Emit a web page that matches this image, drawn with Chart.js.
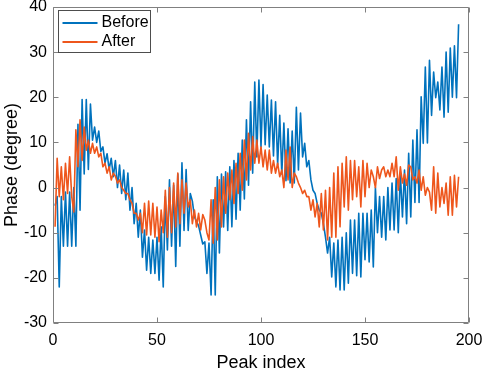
<!DOCTYPE html>
<html>
<head>
<meta charset="utf-8">
<script src="https://cdn.jsdelivr.net/npm/chart.js@4.4.1/dist/chart.umd.min.js"></script>
<style>
  html, body { margin: 0; padding: 0; background: #fff; }
  #wrap { width: 484px; height: 372px; }
</style>
</head>
<body>
<div id="wrap"><canvas id="phase"></canvas></div>
<script>
// Phase of each peak, before and after correction (degree)
var before = [
  -4, -2, -22, -2, -13, -1, -13, -1, -13, 0,
  -13, 14, -5, 19.5, 3, 19.5, 4, 18.5, 10.5, 13.4,
  10, 12.5, 8, 9, 5.4, 7.5, 4, 6.5, 2.4, 6,
  0, 5, -1.3, 3.9, -2.7, 3.2, -5, 0, -8, -3.5,
  -11, -5, -15.4, -9.4, -18.3, -11, -19, -11.6, -19, -11,
  -20.5, -8.7, -22, -2, -13.8, 1.7, -13, 0.5, -17.5, 3,
  -13, 5.5, -9.5, 4, -9.5, -1.3, -3, -6.5, -7.5, -8.5,
  -10.5, -12.5, -12, -19, -12.3, -23.8, -2.7, -23.8, 2.4, -14.5,
  3, -8.7, 3.5, -9.5, 4.6, -8.7, 6, -7, 7.6, -5,
  10.5, -2.5, 15, 0.5, 19, 3.2, 23.4, 6.8, 23.8, 9,
  22.8, 9.5, 20.5, 9, 19.4, 7, 19, 5, 16, 3,
  14.3, 1.5, 13, 1, 12.5, 1, 17.8, 3.9, 16.5, 6.8,
  9.8, 4.6, 6, 1.7, -0.6, -1.3, -3.5, -5, -5.7, -8,
  -11, -14.5, -11, -19.8, -12.3, -22, -11.6, -22.7, -11, -22.7,
  -10, -21.2, -7.2, -19, -7.2, -19.5, -5.7, -19.8, -5.7, -16,
  -5.7, -16.5, -5, -17.6, 0, -10, -2, -11, -2, -11.6,
  0, -9.4, 1, -9.4, 2, -10, 3.2, -6.5, 3.9, -8,
  7.6, -6.5, 10.5, -3.3, 12.8, -3.3, 20.1, 9.8, 26.7, 9.9,
  28.2, 16, 25.6, 19.9, 23.4, 17.2, 26.7, 15.6, 30, 16.7,
  30.9, 20, 31.4, 19.9, 36.2
];
var after = [
  -8.7, 6.5, -2, 4.6, -2.7, 5.4, -1.3, 6.8, -2, -5.4,
  12.8, 4.6, 15, 6, 13.4, 8.3, 10.5, 7.6, 9.8, 7.6,
  9, 6.8, 7.6, 4.6, 5.4, 3.2, 4.6, 1.7, 3.2, 2.5,
  1, 1.7, 0, -0.6, -1.3, -1.3, -2.7, -3.5, -5.7, -5.7,
  -7.2, -5.7, -10, -3.5, -10.5, -3, -10.5, -3.5, -11, -4.3,
  -12, -5, -10, -0.6, -11, 0, -10, 1, -8.7, 3.2,
  -8, 1.7, -5.7, 1, -4.3, -2.7, -8, -5, -8.7, -5.7,
  -9.4, -6, -7.2, -10, -11.6, -2.7, -12.3, 0, -11.6, 1.7,
  -8.7, 2.4, -5.7, 3.2, -2.7, 3.9, -3.5, 5.4, -1.3, 7.6,
  -0.6, 10.5, 1.7, 12, 3.9, 11.3, 5.4, 10.5, 5.4, 9,
  4.6, 8.3, 3.9, 8.3, 3.2, 6, 3.2, 5.4, 2.4, 3.9,
  0, 8.3, 1.7, 9, 0, 3.2, 2.4, 1, 0, -1.3,
  -0.6, -2, -2, -5, -2.7, -6.5, -3.5, -8.7, -1.3, -9.4,
  -0.6, -11.6, 0, -11, 3.2, -11, 4.6, -8.7, 5.4, -4.3,
  6.8, -5, 6, -2.7, 6, -2, 4.6, -4.3, 6, -2,
  5.4, 0, 3.9, 2.4, 0, 4.6, 2, 3.9, 4.6, 2.4,
  3.9, 2.4, 5.4, 2.4, 6.8, -0.6, 4.6, 1, 3, 0.5,
  5, 4.6, 1.7, 2.4, 1, 3.9, -0.6, 2.4, -1.7, 0,
  -1, -5, 4.6, -5.7, 3.2, -4.3, 0, -3.5, 1, -6.1,
  2.4, -6.1, 2.7, -4.3, 2.4
];
var seriesNames = ['Before', 'After'];
var xTicks = [0, 50, 100, 150, 200];
var yTicks = [-30, -20, -10, 0, 10, 20, 30, 40];

var FONT = '"Liberation Sans", Arial, sans-serif';

function toPoints(arr) {
  return arr.map(function (v, i) { return { x: i + 1, y: v }; });
}

// MATLAB-like box, inward ticks and legend
var axesBox = {
  id: 'axesBox',
  afterDatasetsDraw: function (chart) {
    var ctx = chart.ctx, a = chart.chartArea;
    var xs = chart.scales.x, ys = chart.scales.y;
    var L = Math.round(a.left) + 0.5, R = Math.round(a.right) - 0.5;
    var T = Math.round(a.top) + 0.5, B = Math.round(a.bottom) - 0.5;
    ctx.save();
    ctx.strokeStyle = '#808080';
    ctx.lineWidth = 1;
    ctx.beginPath();
    ctx.rect(L, T, R - L, B - T);
    xTicks.forEach(function (v) {
      var px = Math.round(xs.getPixelForValue(v)) + 0.5;
      ctx.moveTo(px, B); ctx.lineTo(px, B - 5);
      ctx.moveTo(px, T); ctx.lineTo(px, T + 5);
    });
    yTicks.forEach(function (v) {
      var py = Math.round(ys.getPixelForValue(v)) + 0.5;
      ctx.moveTo(L, py); ctx.lineTo(L + 5, py);
      ctx.moveTo(R, py); ctx.lineTo(R - 5, py);
    });
    ctx.stroke();

    // legend
    var bx = L + 5, by = T + 3, bw = 92, bh = 42;
    ctx.fillStyle = '#fff';
    ctx.fillRect(bx, by, bw, bh);
    ctx.strokeStyle = '#4d4d4d';
    ctx.strokeRect(bx, by, bw, bh);
    ctx.font = '16px ' + FONT;
    ctx.textBaseline = 'middle';
    ctx.textAlign = 'left';
    chart.data.datasets.forEach(function (ds, k) {
      var ly = by + 12.5 + k * 19;
      ctx.strokeStyle = ds.borderColor;
      ctx.lineWidth = 2;
      ctx.beginPath();
      ctx.moveTo(bx + 4, ly); ctx.lineTo(bx + 39, ly);
      ctx.stroke();
      ctx.fillStyle = '#000';
      ctx.fillText(ds.label, bx + 43, ly);
    });
    ctx.restore();
  }
};

var chartPhase = new Chart(document.getElementById('phase'), {
  type: 'line',
  data: {
    datasets: [{
      label: seriesNames[0],
      data: toPoints(before),
      borderColor: '#0072BD',
      borderWidth: 1.6,
      order: 2
    }, {
      label: seriesNames[1],
      data: toPoints(after),
      borderColor: '#EE561C',
      borderWidth: 1.6,
      order: 1
    }]
  },
  options: {
    responsive: true,
    maintainAspectRatio: false,
    animation: false,
    layout: { padding: { top: 7, right: 15, left: 0, bottom: 0 } },
    elements: {
      point: { radius: 0 },
      line: { tension: 0, borderJoinStyle: 'round', fill: false }
    },
    plugins: {
      legend: { display: false },
      tooltip: { enabled: false }
    },
    scales: {
      x: {
        type: 'linear',
        min: 0, max: 200,
        afterBuildTicks: function (s) { s.ticks = xTicks.map(function (v) { return { value: v }; }); },
        afterFit: function (s) { s.height = 49; s.paddingLeft = 0; s.paddingRight = 0; },
        grid: { display: false, drawTicks: false },
        border: { display: false },
        ticks: { color: '#000', padding: 8, maxRotation: 0, font: { family: FONT, size: 16 } },
        title: { display: true, text: 'Peak index', color: '#000', padding: { top: 0, bottom: 0 }, font: { family: FONT, size: 18, lineHeight: 1 } }
      },
      y: {
        min: -30, max: 40,
        afterBuildTicks: function (s) { s.ticks = yTicks.map(function (v) { return { value: v }; }); },
        afterFit: function (s) { s.width = 53; s.paddingTop = 0; s.paddingBottom = 0; },
        grid: { display: false, drawTicks: false },
        border: { display: false },
        ticks: { color: '#000', padding: 6, font: { family: FONT, size: 16 } },
        title: { display: true, text: 'Phase (degree)', color: '#000', padding: { top: 1, bottom: 0 }, font: { family: FONT, size: 18 } }
      }
    }
  },
  plugins: [axesBox]
});
</script>
</body>
</html>
